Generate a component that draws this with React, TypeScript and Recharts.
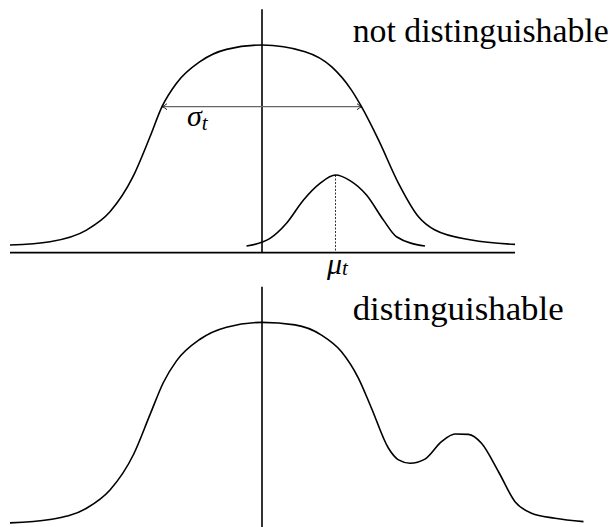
import React from 'react'
import { LineChart, Line, XAxis, YAxis, ReferenceLine } from 'recharts'

// x = distance from the centre line, y = height (1 ~ top of the wide curve)
const wideX = [-5.04, -4.24, -3.51, -3.04, -2.58, -2.24, -2.0, -1.71, -1.24, -0.71, 0, 0.86, 1.39, 1.79, 1.99, 2.33, 2.73, 3.13, 3.46, 4.19, 5.06]
const wideY = [0.037, 0.053, 0.109, 0.197, 0.366, 0.558, 0.703, 0.816, 0.92, 0.979, 1.0, 0.968, 0.896, 0.783, 0.703, 0.543, 0.334, 0.173, 0.109, 0.061, 0.04]

const narrowX = [-0.31, 0.16, 0.49, 0.83, 1.16, 1.47, 1.76, 2.09, 2.43, 2.69, 3.26]
const narrowY = [0.032, 0.069, 0.142, 0.254, 0.334, 0.374, 0.347, 0.278, 0.157, 0.077, 0.032]

const mixX = [-5.04, -4.24, -3.51, -3.04, -2.57, -2.24, -1.97, -1.71, -1.24, -0.71, 0, 0.66, 1.19, 1.59, 1.93, 2.19, 2.53, 2.73, 2.96, 3.26, 3.59, 3.86, 4.13, 4.39, 4.73, 5.06, 5.39, 5.86, 6.43]
const mixY = [0.02, 0.036, 0.09, 0.178, 0.349, 0.541, 0.697, 0.8, 0.904, 0.962, 0.985, 0.973, 0.924, 0.844, 0.716, 0.572, 0.379, 0.323, 0.307, 0.327, 0.411, 0.448, 0.446, 0.403, 0.266, 0.122, 0.066, 0.042, 0.026]

const mu = 1.47
const muHeight = 0.374
const sigmaFrom = -2.0
const sigmaTo = 2.0
const sigmaLevel = 0.703

const wide = wideX.map((x, i) => ({ x, y: wideY[i] }))
const narrow = narrowX.map((x, i) => ({ x, y: narrowY[i] }))
const mix = mixX.map((x, i) => ({ x, y: mixY[i] }))

const serif = 'Liberation Serif'
const xDomain = [-5.24, 7.02]

// small LaTeX-like arrow tips drawn at both ends of the sigma line
const Arrow = (p: any) => {
  const { x1, y1, x2, y2 } = p
  return (
    <g>
      <line x1={x1} y1={y1} x2={x2} y2={y2} stroke="#666" strokeWidth={1.3} />
      <path d={`M${x1 + 5},${y1 - 3} Q${x1 + 2},${y1 - 0.5} ${x1},${y1} Q${x1 + 2},${y1 + 0.5} ${x1 + 5},${y1 + 3}`}
        fill="none" stroke="#222" strokeWidth={1} />
      <path d={`M${x2 - 5},${y2 - 3} Q${x2 - 2},${y2 - 0.5} ${x2},${y2} Q${x2 - 2},${y2 + 0.5} ${x2 - 5},${y2 + 3}`}
        fill="none" stroke="#222" strokeWidth={1} />
      <text x={x1 + 25} y={y1 + 19} fontFamily={serif} fontSize={30} fill="#000">
        <tspan fontStyle="italic">σ</tspan>
        <tspan fontStyle="italic" fontSize={21} dy={4}>t</tspan>
      </text>
    </g>
  )
}

const MuLine = (p: any) => (
  <g>
    <line x1={p.x1} y1={p.y1} x2={p.x2} y2={p.y2} stroke="#000" strokeWidth={0.8} strokeDasharray="2 1.5" />
    <text x={Math.max(p.x1, p.x2) + 2} y={Math.max(p.y1, p.y2) + 21} textAnchor="middle" fontFamily={serif} fontSize={30} fill="#000">
      <tspan fontStyle="italic">μ</tspan>
      <tspan fontStyle="italic" fontSize={21} dy={1}>t</tspan>
    </text>
  </g>
)

export default function App() {
  return (
    <div style={{ position: 'absolute', left: 0, top: 0, width: 613, height: 527, background: '#fff' }}>
      <div style={{ position: 'absolute', left: 0, top: 270 }}>
        <LineChart width={613} height={257} margin={{ top: 0, right: 0, bottom: 0, left: 0 }}>
          <XAxis type="number" dataKey="x" domain={xDomain} allowDataOverflow hide />
          <YAxis type="number" domain={[0, 1.2374]} allowDataOverflow hide />
          <ReferenceLine segment={[{ x: 0, y: 0 }, { x: 0, y: 1.157 }]} stroke="#000" strokeWidth={1.6} />
          <Line data={mix} dataKey="y" type="monotone" stroke="#000" strokeWidth={1.6} dot={false} activeDot={false} isAnimationActive={false} />
          <text x={352.7} y={50} fontFamily={serif} fontSize={34} textLength={211} lengthAdjust="spacingAndGlyphs" fill="#000">distinguishable</text>
        </LineChart>
      </div>
      <div style={{ position: 'absolute', left: 0, top: 0 }}>
        <LineChart width={613} height={300} margin={{ top: 0, right: 0, bottom: 0, left: 0 }}>
          <XAxis type="number" dataKey="x" domain={xDomain} allowDataOverflow hide />
          <YAxis type="number" domain={[-0.2277, 1.2167]} allowDataOverflow hide />
          <ReferenceLine segment={[{ x: -5.04, y: 0 }, { x: 5.06, y: 0 }]} stroke="#000" strokeWidth={1.8} />
          <ReferenceLine segment={[{ x: 0, y: 0 }, { x: 0, y: 1.172 }]} stroke="#000" strokeWidth={1.6} />
          <ReferenceLine segment={[{ x: sigmaFrom, y: sigmaLevel }, { x: sigmaTo, y: sigmaLevel }]} shape={Arrow} />
          <ReferenceLine segment={[{ x: mu, y: muHeight }, { x: mu, y: 0 }]} shape={MuLine} />
          <Line data={wide} dataKey="y" type="monotone" stroke="#000" strokeWidth={1.6} dot={false} activeDot={false} isAnimationActive={false} />
          <Line data={narrow} dataKey="y" type="monotone" stroke="#000" strokeWidth={1.6} dot={false} activeDot={false} isAnimationActive={false} />
          <text x={352.7} y={41.7} fontFamily={serif} fontSize={33} textLength={256} lengthAdjust="spacingAndGlyphs" fill="#000">not distinguishable</text>
        </LineChart>
      </div>
    </div>
  )
}
